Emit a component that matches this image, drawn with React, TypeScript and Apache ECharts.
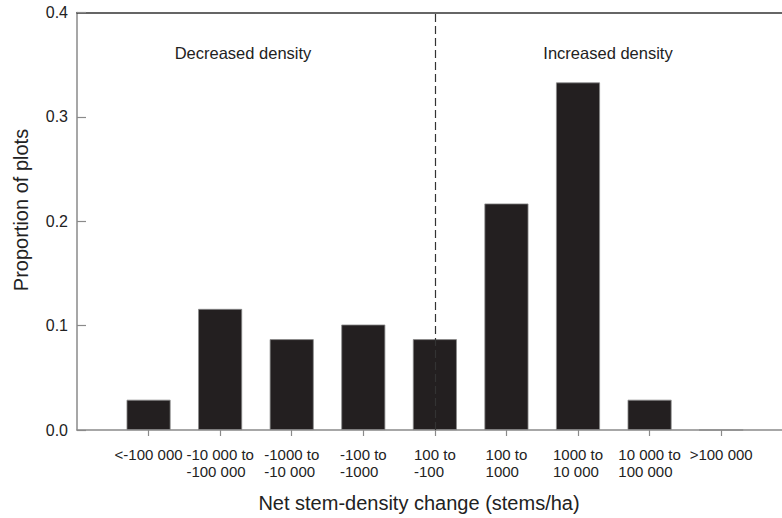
import React, { useEffect, useRef } from "react";
import * as echarts from "echarts";

const categoryLabels = [
  "<-100 000",
  "-10 000 to\n-100 000",
  "-1000 to\n-10 000",
  "-100 to\n-1000",
  "100 to\n-100",
  "100 to\n1000",
  "1000 to\n10 000",
  "10 000 to\n100 000",
  ">100 000",
];
const categoryPositions = [1, 2, 3, 4, 5, 6, 7, 8, 9];
const proportions = [0.029, 0.116, 0.087, 0.101, 0.087, 0.217, 0.333, 0.029, 0];
const dividerPosition = 5;
const yTicks = [0, 0.1, 0.2, 0.3, 0.4];
const regionLabels = ["Decreased density", "Increased density"];
const xTitle = "Net stem-density change (stems/ha)";
const yTitle = "Proportion of plots";

const FONT = "'Liberation Sans', Arial, Helvetica, sans-serif";

export default function App() {
  const ref = useRef<HTMLDivElement>(null);
  useEffect(() => {
    if (!ref.current) return;
    const chart = echarts.init(ref.current, undefined, { renderer: "svg" });
    const xMin = 0;
    const xMax = 9.85;
    chart.setOption({
      animation: false,
      backgroundColor: "#ffffff",
      textStyle: { fontFamily: FONT },
      grid: { left: 77, right: 0, top: 12.5, bottom: 88, containLabel: false },
      xAxis: [
        {
          type: "value",
          min: xMin,
          max: xMax,
          interval: 1,
          position: "bottom",
          splitLine: { show: false },
          axisLine: { show: true, lineStyle: { color: "#8a8a8a", width: 1.5 } },
          axisTick: {
            show: true,
            customValues: categoryPositions,
            length: 6,
            inside: false,
            lineStyle: { color: "#8a8a8a", width: 1.2 },
          },
          axisLabel: {
            show: true,
            customValues: categoryPositions,
            margin: 16,
            formatter: (v: number) => {
              const idx = categoryPositions.indexOf(Math.round(v));
              if (idx < 0) return "";
              return categoryLabels[idx]
                .split("\n")
                .map((l) => `{a|${l}}`)
                .join("\n");
            },
            rich: {
              a: {
                align: "left",
                fontSize: 15,
                lineHeight: 17,
                color: "#222",
                fontFamily: FONT,
              },
            },
          },
        },
        {
          type: "value",
          min: xMin,
          max: xMax,
          position: "top",
          splitLine: { show: false },
          axisLine: { show: true, onZero: false, lineStyle: { color: "#333", width: 1.5 } },
          axisTick: { show: false },
          axisLabel: { show: false },
        },
      ],
      yAxis: {
        type: "value",
        min: 0,
        max: 0.4,
        interval: 0.1,
        splitLine: { show: false },
        axisLine: { show: true, lineStyle: { color: "#8a8a8a", width: 1.5 } },
        axisTick: {
          show: true,
          inside: true,
          length: 9,
          lineStyle: { color: "#8a8a8a", width: 1.2 },
        },
        axisLabel: {
          margin: 9,
          fontSize: 16,
          color: "#222",
          fontFamily: FONT,
          formatter: (v: number) => (yTicks.includes(Math.round(v * 10) / 10) ? v.toFixed(1) : ""),
        },
      },
      series: [
        {
          type: "line",
          data: [],
          xAxisIndex: 0,
          z: 1,
          markLine: {
            silent: true,
            symbol: ["none", "none"],
            label: { show: false },
            lineStyle: { color: "#333", width: 1.2, type: [8, 4] },
            data: [
              [
                { coord: [dividerPosition, 0] },
                { coord: [dividerPosition, 0.4] },
              ],
            ],
          },
        },
        {
          type: "bar",
          xAxisIndex: 0,
          z: 3,
          barWidth: 44,
          data: categoryPositions.map((p, i) => [p, proportions[i]]),
          itemStyle: { color: "#231F20", borderColor: "#8a8a8a", borderWidth: 0.8 },
        },
      ],
      graphic: [
        {
          type: "text",
          x: 243,
          y: 53,
          style: {
            text: regionLabels[0],
            fontSize: 16.5,
            fontFamily: FONT,
            fill: "#222",
            textAlign: "center",
            textVerticalAlign: "middle",
          },
        },
        {
          type: "text",
          x: 608,
          y: 53,
          style: {
            text: regionLabels[1],
            fontSize: 16.5,
            fontFamily: FONT,
            fill: "#222",
            textAlign: "center",
            textVerticalAlign: "middle",
          },
        },
        {
          type: "text",
          x: 419,
          y: 503,
          style: {
            text: xTitle,
            fontSize: 20,
            fontFamily: FONT,
            fill: "#222",
            textAlign: "center",
            textVerticalAlign: "middle",
          },
        },
        {
          type: "text",
          x: 21,
          y: 210,
          rotation: Math.PI / 2,
          style: {
            text: yTitle,
            fontSize: 20,
            fontFamily: FONT,
            fill: "#222",
            textAlign: "center",
            textVerticalAlign: "middle",
          },
        },
      ],
    });
    return () => chart.dispose();
  }, []);
  return (
    <div
      ref={ref}
      style={{ position: "fixed", left: 0, top: 0, width: 782, height: 518 }}
    />
  );
}
